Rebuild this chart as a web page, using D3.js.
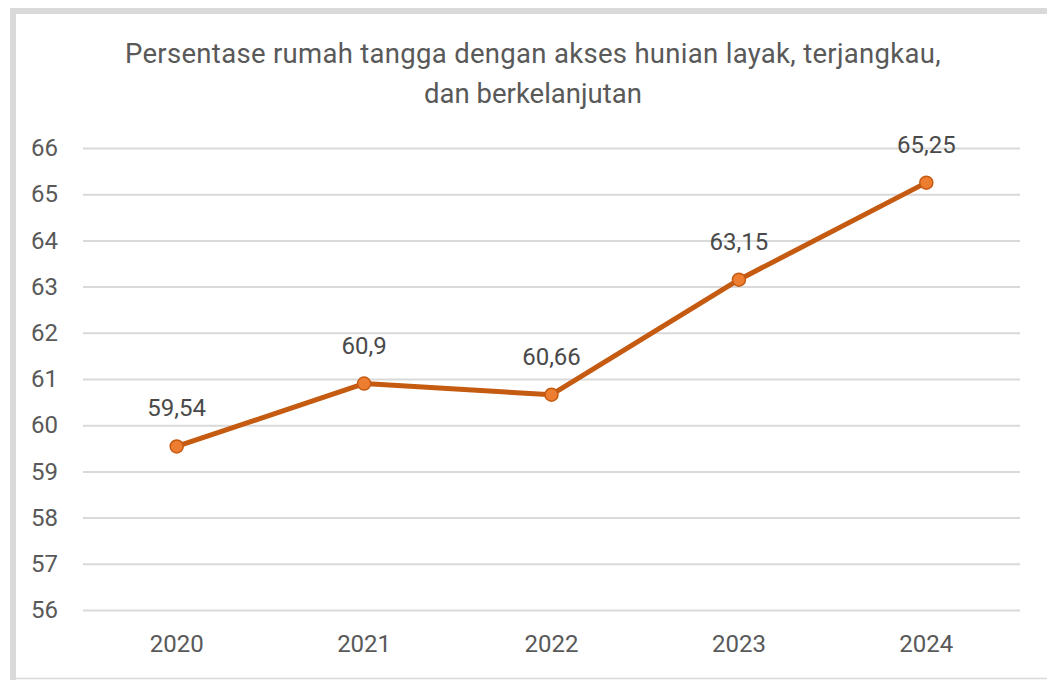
<!DOCTYPE html>
<html>
<head>
<meta charset="utf-8">
<script src="https://cdn.jsdelivr.net/npm/d3@7"></script>
<style>
  body { margin: 0; background: #fff; }
  text { font-family: Roboto, "Open Sans", sans-serif; }
</style>
</head>
<body>
<div id="chart"></div>
<script>
const years = ["2020", "2021", "2022", "2023", "2024"];
const values = [59.54, 60.9, 60.66, 63.15, 65.25];
const labels = ["59,54", "60,9", "60,66", "63,15", "65,25"];
const yTicks = [56, 57, 58, 59, 60, 61, 62, 63, 64, 65, 66];
const titleLines = ["Persentase rumah tangga dengan akses hunian layak, terjangkau,", "dan berkelanjutan"];

const W = 1047, H = 680;
const svg = d3.select("#chart").append("svg")
  .attr("width", W).attr("height", H);

// chart frame: thick top and left, thin bottom, open on the right
svg.append("path")
  .attr("d", `M${W},11 H13 V680`)
  .attr("fill", "none")
  .attr("stroke", "#d9d9d9")
  .attr("stroke-width", 6);
svg.append("line")
  .attr("x1", 10).attr("x2", W).attr("y1", 678.5).attr("y2", 678.5)
  .attr("stroke", "#d9d9d9").attr("stroke-width", 1.5);

const plotL = 83, plotR = 1020, plotT = 148, plotB = 610;

const x = d3.scaleBand().domain(years).range([plotL, plotR]);
const y = d3.scaleLinear().domain([56, 66]).range([plotB, plotT]);

// title
svg.append("g").selectAll("text")
  .data(titleLines).join("text")
  .attr("x", 533).attr("y", (d, i) => 63 + i * 40)
  .attr("text-anchor", "middle")
  .attr("font-size", 27.5)
  .attr("letter-spacing", (d, i) => i === 0 ? 0.3 : 0)
  .attr("fill", "#595959")
  .text(d => d);

// gridlines + y labels
const yAxis = d3.axisLeft(y).tickValues(yTicks).tickSize(-(plotR - plotL)).tickPadding(25);
const gy = svg.append("g").attr("transform", `translate(${plotL},0)`).call(yAxis);
gy.select(".domain").remove();
gy.selectAll(".tick line").attr("stroke", "#d9d9d9").attr("stroke-width", 2);
gy.selectAll(".tick text").attr("fill", "#595959").attr("font-size", 24)
  .attr("font-family", "Roboto, sans-serif");

// x labels
const xAxis = d3.axisBottom(x).tickSize(0).tickPadding(25);
const gx = svg.append("g").attr("transform", `translate(0,${plotB})`).call(xAxis);
gx.select(".domain").remove();
gx.selectAll(".tick text").attr("fill", "#595959").attr("font-size", 24)
  .attr("font-family", "Roboto, sans-serif");

const cx = d => x(d) + x.bandwidth() / 2;

// line
const line = d3.line().x((d, i) => cx(years[i])).y(d => y(d));
svg.append("path")
  .datum(values)
  .attr("d", line)
  .attr("fill", "none")
  .attr("stroke", "#c55a11")
  .attr("stroke-width", 5)
  .attr("stroke-linejoin", "round");

// markers
svg.append("g").selectAll("circle")
  .data(values).join("circle")
  .attr("cx", (d, i) => cx(years[i]))
  .attr("cy", d => y(d))
  .attr("r", 6.5)
  .attr("fill", "#ed7d31")
  .attr("stroke", "#c55a11")
  .attr("stroke-width", 1.5);

// data labels
svg.append("g").selectAll("text")
  .data(values).join("text")
  .attr("x", (d, i) => cx(years[i]))
  .attr("y", d => y(d) - 30)
  .attr("text-anchor", "middle")
  .attr("font-size", 24)
  .attr("fill", "#4a4a4a")
  .text((d, i) => labels[i]);
</script>
</body>
</html>
